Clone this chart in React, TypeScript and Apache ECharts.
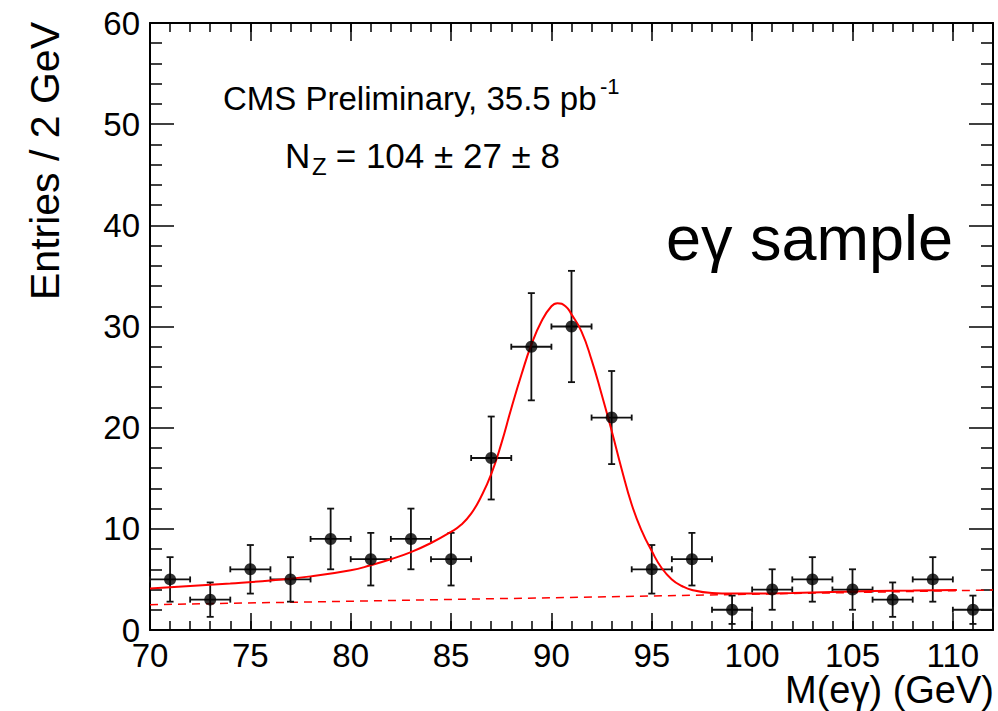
import React, { useEffect, useRef } from "react";
import * as echarts from "echarts";

// Histogram bins (bin centres, GeV) and entries
const binCenters = [71, 73, 75, 77, 79, 81, 83, 85, 87, 89, 91, 93, 95, 97, 99, 101, 103, 105, 107, 109, 111];
const counts = [5, 3, 6, 5, 9, 7, 9, 7, 17, 28, 30, 21, 6, 7, 2, 4, 5, 4, 3, 5, 2];
const yErrors = [2.2, 1.7, 2.4, 2.2, 3.0, 2.6, 3.0, 2.6, 4.1, 5.3, 5.5, 4.6, 2.4, 2.6, 1.4, 2.0, 2.2, 2.0, 1.7, 2.2, 1.4];
const xHalfWidth = [1, 1, 1, 1, 1, 1, 1, 1, 1, 1, 1, 1, 1, 1, 1, 1, 1, 1, 1, 1, 1];

// Fit curve (signal + background)
const fitX = [70, 72, 74, 76, 78, 80, 81, 82, 83, 84, 85, 85.5, 86, 86.5, 87, 87.5, 88, 88.5, 89, 89.5, 90, 90.3, 90.7, 91, 91.5, 92, 92.5, 93, 93.5, 94, 94.5, 95, 95.5, 96, 96.5, 97, 98, 99, 100, 102, 104, 106, 108, 110.2];
const fitY = [4.1, 4.35, 4.6, 4.9, 5.3, 5.9, 6.4, 7.0, 7.7, 8.6, 9.7, 10.4, 11.5, 13.2, 15.4, 18.4, 21.9, 25.2, 28.2, 30.5, 32.0, 32.3, 32.0, 31.2, 29.5, 26.7, 23.3, 19.7, 15.9, 12.4, 9.8, 7.8, 6.1, 5.0, 4.35, 3.95, 3.65, 3.6, 3.6, 3.65, 3.75, 3.85, 3.9, 3.95];

// Background component (dashed)
const bkgX = [70, 112];
const bkgY = [2.5, 3.95];

// Axis settings
const xMin = 70;
const xMax = 112;
const yMin = 0;
const yMax = 60;

const FONT = "'Liberation Sans', Arial, Helvetica, sans-serif";

export default function App() {
  const ref = useRef<HTMLDivElement>(null);

  useEffect(() => {
    if (!ref.current) return;
    const chart = echarts.init(ref.current, null, { renderer: "svg" });

    const pointData = binCenters.map((x, i) => [x, counts[i]]);
    const errData = binCenters.map((x, i) => [x, counts[i], yErrors[i], xHalfWidth[i]]);
    const fitData = fitX.map((x, i) => [x, fitY[i]]);
    const bkgData = bkgX.map((x, i) => [x, bkgY[i]]);

    const axisLineStyle = { color: "#000", width: 2 };
    const tickStyle = { color: "#000", width: 1.5 };

    const xMajor = (position: string, showLabel: boolean, len: number) => ({
      type: "value",
      min: xMin,
      max: xMax,
      interval: 5,
      position,
      axisLine: { show: true, onZero: false, lineStyle: axisLineStyle },
      axisTick: { show: true, inside: true, length: len, lineStyle: tickStyle },
      axisLabel: {
        show: showLabel,
        fontSize: 33,
        lineHeight: 28,
        color: "#000",
        margin: 11,
        fontFamily: FONT,
        showMaxLabel: false,
      },
      splitLine: { show: false },
    });
    const xMinor = (position: string, len: number) => ({
      type: "value",
      min: xMin,
      max: xMax,
      interval: 1,
      position,
      axisLine: { show: false, onZero: false },
      axisTick: { show: true, inside: true, length: len, lineStyle: tickStyle },
      axisLabel: { show: false },
      splitLine: { show: false },
    });
    const yAx = (position: string, showLabel: boolean) => ({
      type: "value",
      min: yMin,
      max: yMax,
      interval: 10,
      position,
      axisLine: { show: true, onZero: false, lineStyle: axisLineStyle },
      axisTick: { show: true, inside: true, length: 24, lineStyle: tickStyle },
      minorTick: { show: true, splitNumber: 5, length: 12, lineStyle: { color: "#000", width: 1.5 } },
      axisLabel: {
        show: showLabel,
        fontSize: 33,
        color: "#000",
        margin: 10,
        fontFamily: FONT,
      },
      splitLine: { show: false },
      minorSplitLine: { show: false },
    });

    const txt = (text: string, x: number, y: number, fontSize: number, align = "left", lineHeight?: number) => ({
      type: "text",
      x,
      y,
      style: {
        text,
        fontSize,
        lineHeight: lineHeight ?? fontSize,
        fontFamily: FONT,
        fill: "#000",
        textAlign: align,
        textVerticalAlign: "middle",
      },
    });

    const option: any = {
      animation: false,
      backgroundColor: "#fff",
      grid: { left: 150, right: 5, top: 23, bottom: 81, show: false },
      xAxis: [xMajor("bottom", true, 17), xMinor("bottom", 9), xMajor("top", false, 18), xMinor("top", 9)],
      yAxis: [yAx("left", true), yAx("right", false)],
      series: [
        {
          type: "line",
          name: "background",
          data: bkgData,
          xAxisIndex: 0,
          yAxisIndex: 0,
          showSymbol: false,
          symbol: "none",
          lineStyle: { color: "#ff0000", width: 1.5, type: [8, 6] },
          z: 2,
        },
        {
          type: "custom",
          name: "errors",
          data: errData,
          xAxisIndex: 0,
          yAxisIndex: 0,
          encode: { x: 0, y: 1 },
          z: 3,
          renderItem: (params: any, api: any) => {
            const x = api.value(0);
            const y = api.value(1);
            const e = api.value(2);
            const h = api.value(3);
            const t = api.coord([x, y + e]);
            const b = api.coord([x, Math.max(0, y - e)]);
            const l = api.coord([x - h, y]);
            const r = api.coord([x + h, y]);
            const style = { stroke: "#111", lineWidth: 1.8 };
            const cw = 3.5;
            const ch = 3;
            return {
              type: "group",
              children: [
                { type: "line", shape: { x1: t[0], y1: t[1], x2: b[0], y2: b[1] }, style },
                { type: "line", shape: { x1: l[0], y1: l[1], x2: r[0], y2: r[1] }, style },
                { type: "line", shape: { x1: t[0] - cw, y1: t[1], x2: t[0] + cw, y2: t[1] }, style },
                { type: "line", shape: { x1: b[0] - cw, y1: b[1], x2: b[0] + cw, y2: b[1] }, style },
                { type: "line", shape: { x1: l[0], y1: l[1] - ch, x2: l[0], y2: l[1] + ch }, style },
                { type: "line", shape: { x1: r[0], y1: r[1] - ch, x2: r[0], y2: r[1] + ch }, style },
              ],
            };
          },
        },
        {
          type: "line",
          name: "fit",
          data: fitData,
          xAxisIndex: 0,
          yAxisIndex: 0,
          showSymbol: false,
          symbol: "none",
          smooth: 0.5,
          lineStyle: { color: "#ff0000", width: 2 },
          z: 4,
        },
        {
          type: "scatter",
          name: "data",
          data: pointData,
          xAxisIndex: 0,
          yAxisIndex: 0,
          symbol: "circle",
          symbolSize: 12,
          itemStyle: { color: "#000" },
          z: 5,
        },
      ],
      graphic: [
        {
          type: "text",
          x: 45,
          y: 22,
          rotation: Math.PI / 2,
          style: {
            text: "Entries / 2 GeV",
            fontSize: 41,
            fontFamily: FONT,
            fill: "#000",
            textAlign: "right",
            textVerticalAlign: "middle",
          },
        },
        txt("M(eγ) (GeV)", 994, 690, 38, "right", 34),
        txt("CMS Preliminary, 35.5 pb", 223, 98, 33),
        txt("-1", 600, 86, 22),
        txt("N", 285, 155, 35),
        txt("Z", 312, 166, 24),
        txt(" = 104 ± 27 ± 8", 326, 155, 35),
        txt("eγ sample", 666, 238, 63),
      ],
    };

    chart.setOption(option);
    return () => chart.dispose();
  }, []);

  return <div ref={ref} style={{ width: 998, height: 711, position: "absolute", left: 0, top: 0 }} />;
}
